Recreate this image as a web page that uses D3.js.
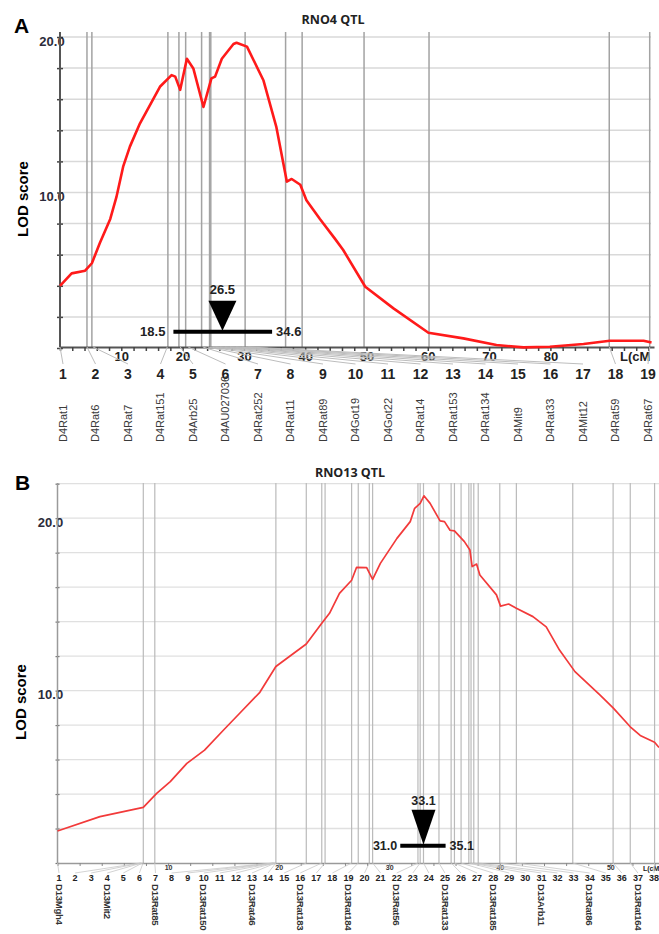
<!DOCTYPE html>
<html>
<head>
<meta charset="utf-8">
<script src="https://cdn.jsdelivr.net/npm/d3@7"></script>
<style>
  body { margin: 0; background: #fff; }
  svg { display: block; }
  text { font-family: "Liberation Sans", Arial, sans-serif; fill: #222; }
</style>
</head>
<body>
<svg id="qtl" width="659" height="934"></svg>
<script>
// ---- panel A : RNO4 ----
var cmA  = [0, 1.9, 4.1, 5.2, 6.5, 8.2, 9.2, 10.3, 11.4, 13.05, 16.3, 18.2, 18.8, 19.6, 20.7, 21.75, 23.4, 24.7, 25.3, 26.4, 28.3, 28.8, 30.5, 33.2, 35.3, 37.0, 37.8, 39.2, 40.2, 42.4, 44.9, 46.2, 49.8, 54.4, 60.1, 65.8, 71.2, 75.6, 79.9, 85.4, 89.7, 95.2, 96.5];
var lodA = [4.0, 4.8, 4.97, 5.45, 6.75, 8.3, 9.7, 11.66, 12.95, 14.45, 16.8, 17.55, 17.45, 16.6, 18.6, 17.98, 15.5, 17.34, 17.45, 18.6, 19.55, 19.63, 19.38, 17.2, 14.2, 10.7, 10.87, 10.5, 9.5, 8.3, 7.0, 6.3, 3.94, 2.55, 0.98, 0.62, 0.19, 0.04, 0.08, 0.26, 0.47, 0.47, 0.36];
var linesA = [0, 4.4, 5.2, 17.6, 19.4, 20.5, 23.1, 24.4, 24.6, 30.2, 36.8, 39.5, 49.6, 60.2, 89.6, 96.2];
var anchorA = [0, 4.4, 5.4, 17.5, 19.6, 20.9, 23.3, 24.1, 24.5, 25.0, 25.4, 26.1, 26.9, 27.7, 28.7, 29.7, 30.7, 89.6, 96.2];
var namesA = ["D4Rat1", "D4Rat6", "D4Rat7", "D4Rat151", "D4Arb25", "D4AU027036", "D4Rat252", "D4Rat11", "D4Rat89", "D4Got19", "D4Got22", "D4Rat14", "D4Rat153", "D4Rat134", "D4Mit9", "D4Rat33", "D4Mit12", "D4Rat59", "D4Rat67"];
var ciA = [18.5, 26.5, 34.6];

// ---- panel B : RNO13 ----
var cmB  = [0, 3.84, 7.76, 8.97, 10.2, 11.7, 13.3, 15.0, 16.5, 18.3, 19.75, 22.5, 23.9, 24.6, 25.5, 26.6, 27.05, 27.96, 28.5, 29.2, 30.7, 31.9, 32.3, 32.8, 33.14, 33.7, 34.6, 35.0, 35.5, 35.9, 36.8, 37.3, 37.5, 37.9, 38.2, 39.7, 40.07, 40.8, 41.5, 43.0, 44.2, 45.4, 46.8, 49.05, 50.25, 51.8, 52.7, 54.0, 54.4];
var lodB = [1.86, 2.69, 3.23, 4.04, 4.72, 5.78, 6.55, 7.7, 8.7, 9.9, 11.4, 12.7, 13.9, 14.48, 15.64, 16.4, 17.15, 17.13, 16.45, 17.38, 18.83, 19.8, 20.57, 20.86, 21.3, 20.86, 19.84, 19.8, 19.3, 19.26, 18.64, 18.15, 17.19, 17.34, 16.7, 15.55, 14.9, 15.02, 14.77, 14.29, 13.7, 12.35, 11.1, 9.75, 9.0, 7.9, 7.4, 7.0, 6.7];
var linesB = [7.76, 8.8, 19.75, 22.5, 23.9, 24.2, 26.6, 27.2, 28.2, 28.5, 32.6, 32.8, 33.1, 34.5, 35.6, 35.9, 36.5, 37.2, 37.4, 37.65, 38.05, 40.0, 41.5, 46.6, 50.25, 51.8, 54.0];
var anchorB = [0, 7.5, 7.56, 7.62, 7.68, 7.74, 8.8, 19.5, 19.55, 19.6, 19.65, 19.7, 19.72, 19.75, 22.5, 23.9, 24.2, 26.6, 27.2, 28.2, 28.5, 32.6, 32.8, 33.1, 34.5, 35.6, 35.9, 36.5, 37.2, 37.4, 37.65, 38.05, 40.0, 41.5, 46.6, 50.25, 51.8, 54.0];
var namesB = ["D13Mgh4", "D13Mit2", "D13Rat85", "D13Rat150", "D13Rat46", "D13Rat183", "D13Rat184", "D13Rat56", "D13Rat133", "D13Rat185", "D13Arb11", "D13Rat86", "D13Rat164"];
var namedB = [1, 4, 7, 10, 13, 16, 19, 22, 25, 28, 31, 34, 37];
var ciB = [31.0, 33.1, 35.1];

var svg = d3.select("svg#qtl");

function lodLine(x, y) {
  return d3.line().x(function (d) { return x(d[0]); }).y(function (d) { return y(d[1]); });
}

// ================= A =================
var xA = d3.scaleLinear().domain([0, 96.9]).range([60, 654]);
var yA = d3.scaleLinear().domain([0, 20]).range([348, 37]);
var topA = 32, baseA = 347;
var slotA = d3.scaleLinear().domain([1, 19]).range([63, 648]);

var gA = svg.append("g");

gA.selectAll("line.hgrid").data(d3.range(2, 21, 2)).enter().append("line")
  .attr("x1", 60).attr("x2", 651).attr("y1", function (d) { return yA(d); }).attr("y2", function (d) { return yA(d); })
  .style("stroke", "#d9d9d9").style("stroke-width", 1.5);

gA.selectAll("line.marker").data(linesA).enter().append("line")
  .attr("x1", function (d) { return xA(d); }).attr("x2", function (d) { return xA(d); })
  .attr("y1", topA).attr("y2", baseA)
  .style("stroke", "#a3a3a3").style("stroke-width", 1.5);

// y axis
var leftA = d3.axisLeft(yA).tickValues(d3.range(0, 21, 2)).tickSize(3).tickSizeOuter(0)
  .tickFormat(function (d) { return d > 0 && d % 10 === 0 ? d.toFixed(1) : ""; });
var yaxA = gA.append("g").attr("transform", "translate(60,0)").call(leftA);
yaxA.select(".domain").remove();
yaxA.selectAll(".tick line").attr("x1", -3).attr("x2", 3).style("stroke", "#444").style("stroke-width", 1.5);
yaxA.selectAll(".tick text").attr("x", -8).attr("dy", 8).style("text-anchor", "middle")
  .style("font-size", "13px").style("font-weight", "bold").style("fill", "#2b2b3a");
gA.append("line").attr("x1", 60).attr("x2", 60).attr("y1", topA).attr("y2", baseA)
  .style("stroke", "#555").style("stroke-width", 2);

// x axis
var bottomA = d3.axisBottom(xA).tickValues(d3.range(0, 97, 2)).tickSize(4).tickSizeOuter(0)
  .tickFormat(function (d) { return d > 0 && d < 90 && d % 10 === 0 ? d : ""; });
var xaxA = gA.append("g").attr("transform", "translate(0," + baseA + ")").call(bottomA);
xaxA.select(".domain").style("stroke", "#555").style("stroke-width", 2);
xaxA.selectAll(".tick line").style("stroke", "#444").style("stroke-width", 1.5);
xaxA.selectAll(".tick text").attr("y", 5).style("font-size", "13px").style("font-weight", "bold").style("fill", "#222");
gA.append("text").attr("x", 620).attr("y", 361).text("L(cM")
  .style("font-size", "13px").style("font-weight", "bold");

// markers
gA.selectAll("line.conn").data(anchorA).enter().append("line")
  .attr("x1", function (d) { return xA(d); }).attr("y1", baseA)
  .attr("x2", function (d, i) { return slotA(i + 1); }).attr("y2", 364)
  .style("stroke", "#bdbdbd").style("stroke-width", 1);
gA.selectAll("text.num").data(anchorA).enter().append("text")
  .attr("x", function (d, i) { return slotA(i + 1); }).attr("y", 379)
  .style("text-anchor", "middle").style("font-size", "14px").style("font-weight", "bold")
  .text(function (d, i) { return i + 1; });
gA.selectAll("text.name").data(namesA).enter().append("text")
  .attr("transform", function (d, i) { return "translate(" + slotA(i + 1) + ",442) rotate(-90)"; })
  .attr("dy", "0.35em")
  .style("font-size", "11px").style("fill", "#3a3a3a")
  .text(function (d) { return d; });

// QTL curve
gA.append("path").datum(d3.zip(cmA, lodA)).attr("d", lodLine(xA, yA))
  .style("fill", "none").style("stroke", "#ff1a1a").style("stroke-width", 2.6).style("stroke-linejoin", "round");

// confidence interval
var barYA = yA(1.05);
gA.append("line").attr("x1", xA(ciA[0])).attr("x2", xA(ciA[2])).attr("y1", barYA).attr("y2", barYA)
  .style("stroke", "#000").style("stroke-width", 4);
gA.append("path")
  .attr("d", "M" + (xA(ciA[1]) - 14) + "," + (barYA - 31) + "L" + (xA(ciA[1]) + 14) + "," + (barYA - 31) + "L" + xA(ciA[1]) + "," + (barYA - 1) + "Z")
  .style("fill", "#000");
gA.append("text").attr("x", xA(ciA[1])).attr("y", barYA - 38).style("text-anchor", "middle")
  .style("font-size", "13px").style("font-weight", "bold").text(ciA[1].toFixed(1));
gA.append("text").attr("x", xA(ciA[0]) - 8).attr("y", barYA + 4).style("text-anchor", "end")
  .style("font-size", "13px").style("font-weight", "bold").text(ciA[0].toFixed(1));
gA.append("text").attr("x", xA(ciA[2]) + 4).attr("y", barYA + 4)
  .style("font-size", "13px").style("font-weight", "bold").text(ciA[2].toFixed(1));

gA.append("text").attr("x", 333).attr("y", 24).style("text-anchor", "middle")
  .style("font-family", "'Open Sans', sans-serif").style("font-size", "12.5px").style("font-weight", "bold").text("RNO4 QTL");
gA.append("text").attr("x", 14).attr("y", 33).style("font-size", "21px").style("font-weight", "bold").style("fill", "#000").text("A");
gA.append("text").attr("transform", "translate(28,199) rotate(-90)").style("text-anchor", "middle")
  .style("font-size", "15px").style("font-weight", "bold").style("fill", "#000").text("LOD score");

// ================= B =================
var xB = d3.scaleLinear().domain([0, 54.4]).range([57.5, 659]);
var yB = d3.scaleLinear().domain([0, 22]).range([863, 483.7]);
var topB = 483, baseB = 863;
var slotB = d3.scaleLinear().domain([1, 38]).range([59, 654]);

var gB = svg.append("g");

gB.selectAll("line.hgrid").data(d3.range(2, 23, 2)).enter().append("line")
  .attr("x1", 57.5).attr("x2", 659).attr("y1", function (d) { return yB(d); }).attr("y2", function (d) { return yB(d); })
  .style("stroke", "#e0e0e0").style("stroke-width", 1.3);

gB.selectAll("line.marker").data(linesB).enter().append("line")
  .attr("x1", function (d) { return xB(d); }).attr("x2", function (d) { return xB(d); })
  .attr("y1", topB).attr("y2", baseB)
  .style("stroke", "#bababa").style("stroke-width", 1.2);

var leftB = d3.axisLeft(yB).tickValues(d3.range(0, 23, 2)).tickSize(3).tickSizeOuter(0)
  .tickFormat(function (d) { return d > 0 && d % 10 === 0 ? d.toFixed(1) : ""; });
var yaxB = gB.append("g").attr("transform", "translate(57.5,0)").call(leftB);
yaxB.select(".domain").remove();
yaxB.selectAll(".tick line").attr("x1", -2).attr("x2", 2).style("stroke", "#777").style("stroke-width", 1.2);
yaxB.selectAll(".tick text").attr("x", -7).attr("dy", 8).style("text-anchor", "middle")
  .style("font-size", "13px").style("font-weight", "bold").style("fill", "#2b2b3a");
gB.append("line").attr("x1", 57.5).attr("x2", 57.5).attr("y1", topB).attr("y2", baseB)
  .style("stroke", "#9a9a9a").style("stroke-width", 1.5);

var bottomB = d3.axisBottom(xB).tickValues(d3.range(0, 55, 2)).tickSize(3).tickSizeOuter(0)
  .tickFormat(function (d) { return d > 0 && d % 10 === 0 ? d : ""; });
var xaxB = gB.append("g").attr("transform", "translate(0," + baseB + ")").call(bottomB);
xaxB.select(".domain").style("stroke", "#9a9a9a").style("stroke-width", 1.5);
xaxB.selectAll(".tick line").style("stroke", "#888");
xaxB.selectAll(".tick text").attr("y", 2).style("font-size", "7px").style("font-weight", "bold").style("fill", "#333");
gB.append("text").attr("x", 643).attr("y", 871).text("L(cM")
  .style("font-size", "7px").style("font-weight", "bold");

gB.selectAll("line.conn").data(anchorB).enter().append("line")
  .attr("x1", function (d) { return xB(d); }).attr("y1", baseB)
  .attr("x2", function (d, i) { return slotB(i + 1); }).attr("y2", 873)
  .style("stroke", "#c8c8c8").style("stroke-width", 0.8);
gB.selectAll("text.num").data(anchorB).enter().append("text")
  .attr("x", function (d, i) { return slotB(i + 1); }).attr("y", 881)
  .style("text-anchor", "middle").style("font-size", "9px").style("font-weight", "bold")
  .text(function (d, i) { return i + 1; });
gB.selectAll("text.name").data(namesB).enter().append("text")
  .attr("transform", function (d, i) { return "translate(" + slotB(namedB[i]) + ",884) rotate(90)"; })
  .attr("dy", "0.35em")
  .style("font-size", "9.6px").style("font-weight", "bold").style("fill", "#333")
  .style("letter-spacing", "-0.3px")
  .text(function (d) { return d; });

gB.append("path").datum(d3.zip(cmB, lodB)).attr("d", lodLine(xB, yB))
  .style("fill", "none").style("stroke", "#f23a3a").style("stroke-width", 1.7).style("stroke-linejoin", "round");

var barYB = yB(1.0);
gB.append("line").attr("x1", xB(ciB[0])).attr("x2", xB(ciB[2])).attr("y1", barYB).attr("y2", barYB)
  .style("stroke", "#000").style("stroke-width", 4);
gB.append("path")
  .attr("d", "M" + (xB(ciB[1]) - 12) + "," + (barYB - 36) + "L" + (xB(ciB[1]) + 12) + "," + (barYB - 36) + "L" + xB(ciB[1]) + "," + (barYB - 1) + "Z")
  .style("fill", "#000");
gB.append("text").attr("x", xB(ciB[1])).attr("y", barYB - 41).style("text-anchor", "middle")
  .style("font-size", "12.5px").style("font-weight", "bold").text(ciB[1].toFixed(1));
gB.append("text").attr("x", xB(ciB[0]) - 3).attr("y", barYB + 4).style("text-anchor", "end")
  .style("font-size", "12.5px").style("font-weight", "bold").text(ciB[0].toFixed(1));
gB.append("text").attr("x", xB(ciB[2]) + 4).attr("y", barYB + 4)
  .style("font-size", "12.5px").style("font-weight", "bold").text(ciB[2].toFixed(1));

gB.append("text").attr("x", 350).attr("y", 477).style("text-anchor", "middle")
  .style("font-family", "'Open Sans', sans-serif").style("font-size", "12.5px").style("font-weight", "bold").text("RNO13 QTL");
gB.append("text").attr("x", 15).attr("y", 490).style("font-size", "21px").style("font-weight", "bold").style("fill", "#000").text("B");
gB.append("text").attr("transform", "translate(26,702) rotate(-90)").style("text-anchor", "middle")
  .style("font-size", "15px").style("font-weight", "bold").style("fill", "#000").text("LOD score");
</script>
</body>
</html>
